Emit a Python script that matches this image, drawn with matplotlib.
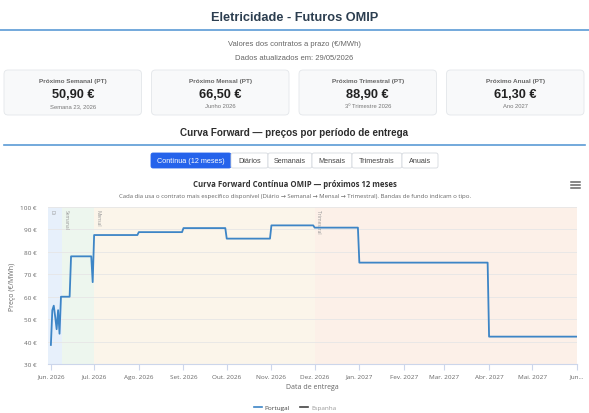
import matplotlib
matplotlib.use("Agg")
import matplotlib.pyplot as plt
from matplotlib.patches import FancyBboxPatch
from matplotlib.lines import Line2D
import pandas as pd

# dados
datas = ["2026-06-01", "2026-06-02", "2026-06-03", "2026-06-04", "2026-06-05",
         "2026-06-06", "2026-06-07", "2026-06-08", "2026-06-14", "2026-06-15",
         "2026-06-29", "2026-06-30", "2026-07-01", "2026-07-31", "2026-08-01",
         "2026-08-31", "2026-09-01", "2026-09-30", "2026-10-01", "2026-10-31",
         "2026-11-01", "2026-11-30", "2026-12-01", "2026-12-31", "2027-01-01",
         "2027-03-31", "2027-04-01", "2027-06-01"]
portugal = [38.5, 54.0, 56.0, 51.0, 45.5, 54.0, 43.5, 60.0, 60.0, 78.0,
            78.0, 66.5, 87.5, 87.5, 88.8, 88.8, 90.6, 90.6, 85.9, 85.9,
            91.8, 91.8, 90.8, 90.8, 75.2, 75.2, 42.2, 42.2]

bandas = ["Di", "Semanal", "Mensal", "Trimestral"]
bandas_inicio = ["2026-05-30", "2026-06-09", "2026-07-01", "2026-12-01"]
bandas_fim = ["2026-06-09", "2026-07-01", "2026-12-01", "2027-06-01"]
bandas_cor = ["#e7f0fb", "#edf6ee", "#fbf5ea", "#fcf0e8"]

meses = pd.date_range("2026-06-01", "2027-06-01", freq="MS")
meses_txt = ["Jun. 2026", "Jul. 2026", "Ago. 2026", "Set. 2026", "Out. 2026",
             "Nov. 2026", "Dez. 2026", "Jan. 2027", "Fev. 2027", "Mar. 2027",
             "Abr. 2027", "Mai. 2027", "Jun..."]

cards_titulo = ["Próximo Semanal (PT)", "Próximo Mensal (PT)",
                "Próximo Trimestral (PT)", "Próximo Anual (PT)"]
cards_valor = ["50,90 €", "66,50 €", "88,90 €", "61,30 €"]
cards_sub = ["Semana 23, 2026", "Junho 2026", "3º Trimestre 2026", "Ano 2027"]

botoes = ["Contínua (12 meses)", "Diários", "Semanais", "Mensais",
          "Trimestrais", "Anuais"]

W, H = 589, 414
fig = plt.figure(figsize=(W / 100, H / 100), dpi=100)
fig.patch.set_facecolor("white")

# camada de fundo em pixeis
bg = fig.add_axes([0, 0, 1, 1], zorder=0)
bg.set_xlim(0, W)
bg.set_ylim(H, 0)
bg.axis("off")

hdr = "Liberation Sans"
cht = "Open Sans"

bg.text(W / 2, 18, "Eletricidade - Futuros OMIP", ha="center", va="center",
        fontsize=9.2, fontweight="bold", color="#2c3e50", family=hdr)
bg.plot([0, W], [31, 31], color="#5b9bd5", lw=1.2)
bg.text(W / 2, 45, "Valores dos contratos a prazo (€/MWh)", ha="center",
        va="center", fontsize=5.5, color="#666666", family=hdr)
bg.text(W / 2, 58, "Dados atualizados em: 29/05/2026", ha="center",
        va="center", fontsize=5.5, color="#666666", family=hdr)

x0 = 4
cw = 137.5
gap = 10
for i in range(4):
    cx = x0 + i * (cw + gap)
    bg.add_patch(FancyBboxPatch((cx, 71), cw, 45,
                                boxstyle="round,pad=0,rounding_size=4",
                                fc="#f8f9fa", ec="#e3e6ea", lw=0.6))
    mid = cx + cw / 2
    bg.text(mid, 81, cards_titulo[i], ha="center", va="center", fontsize=4.6,
            color="#666666", family=hdr, fontweight="bold")
    bg.text(mid, 95, cards_valor[i], ha="center", va="center", fontsize=9.2,
            color="#222222", family=hdr, fontweight="bold")
    bg.text(mid, 107, cards_sub[i], ha="center", va="center", fontsize=4.2,
            color="#777777", family=hdr)

bg.text(W / 2, 133, "Curva Forward — preços por período de entrega",
        ha="center", va="center", fontsize=7.1, fontweight="bold",
        color="#2c2c2c", family=hdr)
bg.plot([4, 585], [146, 146], color="#5b9bd5", lw=1.2)

bx = [151, 231, 268, 312, 352, 402, 438]
for i, b in enumerate(botoes):
    ativo = i == 0
    bg.add_patch(FancyBboxPatch((bx[i], 154), bx[i + 1] - bx[i], 15,
                                boxstyle="round,pad=0,rounding_size=2",
                                fc="#2563eb" if ativo else "white",
                                ec="#2563eb" if ativo else "#d5d9de", lw=0.6))
    bg.text((bx[i] + bx[i + 1]) / 2, 161.5, b, ha="center", va="center",
            fontsize=5.2, color="white" if ativo else "#444444", family=hdr)

bg.text(295, 185, "Curva Forward Contínua OMIP — próximos 12 meses",
        ha="center", va="center", fontsize=5.6, fontweight="bold",
        color="#333333", family=cht)
bg.text(295, 197, "Cada dia usa o contrato mais específico disponível "
        "(Diário → Semanal → Mensal → Trimestral). Bandas de fundo indicam o tipo.",
        ha="center", va="center", fontsize=4.35, color="#666666",
        family=[cht, "DejaVu Sans"])
for yy in (183, 186, 189):
    bg.plot([571, 580], [yy, yy], color="#666666", lw=1.1)

# grafico
ax = fig.add_axes([48 / W, (H - 365) / H, (577 - 48) / W, (365 - 208) / H],
                  zorder=1)
x = pd.to_datetime(datas)
for nome, a, b, c in zip(bandas, bandas_inicio, bandas_fim, bandas_cor):
    a, b = pd.Timestamp(a), pd.Timestamp(b)
    ax.axvspan(a, b, color=c, lw=0, zorder=0)
    ax.text(a + pd.Timedelta(days=2.5), 99, nome, rotation=-90, ha="center",
            va="top", fontsize=3.6, color="#999999", family=cht)

ax.plot(x, portugal, color="#3d85c6", lw=1.3, zorder=3)
ax.set_xlim(pd.Timestamp("2026-05-30"), pd.Timestamp("2027-06-01"))
ax.set_ylim(30, 100)
ax.set_yticks(range(30, 101, 10))
ax.set_yticklabels([f"{v} €" for v in range(30, 101, 10)])
ax.set_xticks(meses)
ax.set_xticklabels(meses_txt)
ax.grid(axis="y", color="#e6e6e6", lw=0.6, zorder=1)
ax.set_axisbelow(True)
for s in ("top", "right", "left"):
    ax.spines[s].set_visible(False)
ax.spines["bottom"].set_color("#ccd6eb")
ax.spines["bottom"].set_linewidth(0.8)
ax.tick_params(axis="y", length=0, labelsize=4.6, labelcolor="#666666", pad=8)
ax.tick_params(axis="x", length=4, color="#ccd6eb", labelsize=4.6,
               labelcolor="#666666", pad=3)
for lab in ax.get_xticklabels() + ax.get_yticklabels():
    lab.set_family(cht)
ax.set_ylabel("Preço (€/MWh)", fontsize=5, color="#666666", family=cht,
              labelpad=3)
ax.set_xlabel("Data de entrega", fontsize=5, color="#666666", family=cht,
              labelpad=3)

leg = fig.legend(handles=[Line2D([], [], color="#3d85c6", lw=1.2),
                          Line2D([], [], color="#444444", lw=1.2)],
                 labels=["Portugal", "Espanha"], loc="center",
                 bbox_to_anchor=(295 / W, 1 - 408 / H), ncol=2, frameon=False,
                 prop={"family": cht, "size": 4.6}, handlelength=1.2,
                 handletextpad=0.5, columnspacing=1.6)
leg.get_texts()[0].set_color("#444444")
leg.get_texts()[1].set_color("#999999")

fig.savefig("out.png", dpi=100)
